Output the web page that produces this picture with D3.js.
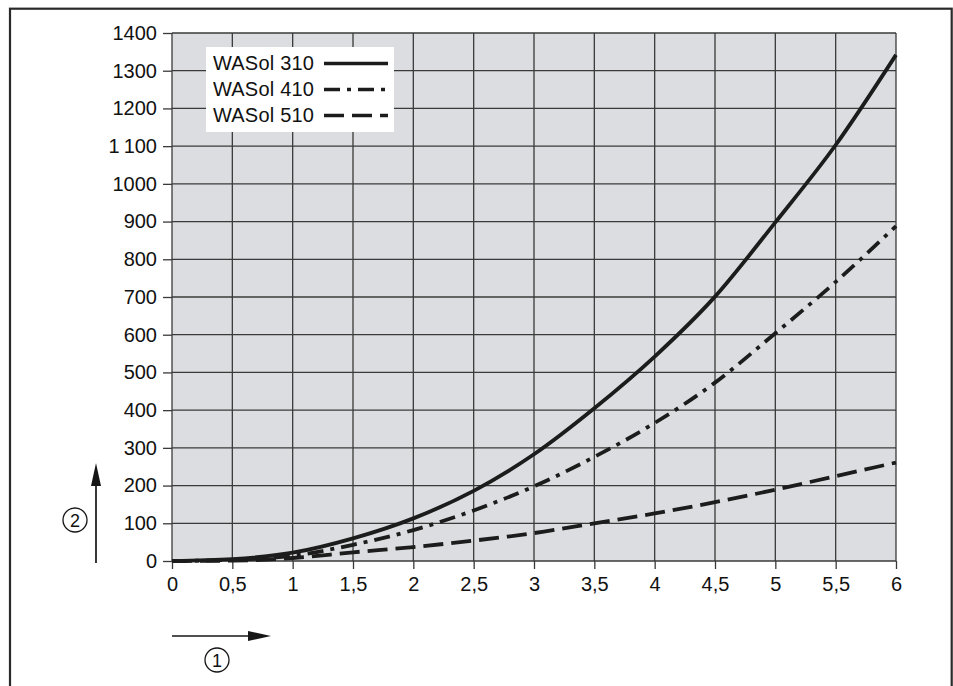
<!DOCTYPE html>
<html>
<head>
<meta charset="utf-8">
<script src="https://cdn.jsdelivr.net/npm/d3@7"></script>
<style>
  html, body { margin: 0; padding: 0; background: #fff; }
  svg { display: block; }
  text { font-family: "Liberation Sans", Arial, Helvetica, sans-serif; fill: #111; }
</style>
</head>
<body>
<svg id="chart" width="953" height="686"></svg>
<script>
// ---- data ----
const xValues = [0, 0.5, 1, 1.5, 2, 2.5, 3, 3.5, 4, 4.5, 5, 5.5, 6];
const wasol310 = [0, 5, 22, 60, 113, 186, 283, 405, 542, 701, 898, 1103, 1342];
const wasol410 = [0, 3, 14, 43, 82, 134, 198, 276, 366, 473, 604, 740, 888];
const wasol510 = [0, 1, 8, 23, 37, 54, 74, 100, 126, 156, 189, 225, 261];
const seriesNames = ["WASol 310", "WASol 410", "WASol 510"];
const xTicks = [0, 0.5, 1, 1.5, 2, 2.5, 3, 3.5, 4, 4.5, 5, 5.5, 6];
const yTicks = [0, 100, 200, 300, 400, 500, 600, 700, 800, 900, 1000, 1100, 1200, 1300, 1400];
const yTickLabels = ["0", "100", "200", "300", "400", "500", "600", "700", "800", "900", "1000", "1\u2009100", "1200", "1300", "1400"];

// ---- layout ----
const svg = d3.select("#chart");
const x = d3.scaleLinear().domain([0, 6]).range([172, 896]);
const y = d3.scaleLinear().domain([0, 1400]).range([561, 33]);
const gridColor = "#3a3a3a";
const ink = "#161616";

// outer frame
svg.append("rect")
  .attr("x", 10).attr("y", 8.7).attr("width", 941.7).attr("height", 720)
  .attr("fill", "none").attr("stroke", "#2a2a2a").attr("stroke-width", 2.2);

// plot background
svg.append("rect")
  .attr("x", x(0)).attr("y", y(1400))
  .attr("width", x(6) - x(0)).attr("height", y(0) - y(1400))
  .attr("fill", "#dcdde0");

// grid
const grid = svg.append("g");
grid.selectAll("line.v").data(xTicks).join("line")
  .attr("x1", d => x(d)).attr("x2", d => x(d))
  .attr("y1", y(1400)).attr("y2", y(0))
  .attr("stroke", gridColor).attr("stroke-width", 1.3);
grid.selectAll("line.h").data(yTicks).join("line")
  .attr("x1", x(0)).attr("x2", x(6))
  .attr("y1", d => y(d)).attr("y2", d => y(d))
  .attr("stroke", gridColor).attr("stroke-width", 1.3);

// axes
const fmtX = d => String(d).replace(".", ",");
const yAxis = d3.axisLeft(y).tickValues(yTicks)
  .tickFormat((d, i) => yTickLabels[i]).tickSize(9).tickPadding(6);
const gy = svg.append("g").attr("transform", `translate(${x(0)},0)`).call(yAxis);
const xAxis = d3.axisBottom(x).tickValues(xTicks).tickFormat(fmtX).tickSize(8).tickPadding(8);
const gx = svg.append("g").attr("transform", `translate(0,${y(0)})`).call(xAxis);
[gy, gx].forEach(g => {
  g.select(".domain").remove();
  g.selectAll(".tick line").attr("stroke", gridColor).attr("stroke-width", 1.3);
  g.selectAll(".tick text").style("font-size", "20px")
    .style("font-family", "'Liberation Sans', Arial, sans-serif").attr("fill", ink);
});

// curves
const styles = [
  { data: wasol310, dash: null },
  { data: wasol410, dash: "16,7,4,7" },
  { data: wasol510, dash: "20,8" }
];
const line = d3.line().x((d, i) => x(xValues[i])).y(d => y(d)).curve(d3.curveMonotoneX);
svg.append("g").selectAll("path").data(styles).join("path")
  .attr("d", s => line(s.data))
  .attr("fill", "none").attr("stroke", "#1c1c1c").attr("stroke-width", 3.8)
  .attr("stroke-dasharray", s => s.dash);

// legend
const lg = svg.append("g");
lg.append("rect").attr("x", 206).attr("y", 47).attr("width", 188).attr("height", 85).attr("fill", "#fff");
const rowsY = [69.5, 95.5, 121.5];
seriesNames.forEach((name, i) => {
  lg.append("text").attr("x", 213).attr("y", rowsY[i]).text(name)
    .style("font-size", "20px").style("letter-spacing", "0.2px").attr("fill", ink);
  lg.append("line").attr("x1", 324).attr("x2", 388)
    .attr("y1", rowsY[i] - 6).attr("y2", rowsY[i] - 6)
    .attr("stroke", "#1c1c1c").attr("stroke-width", 3.6)
    .attr("stroke-dasharray", styles[i].dash);
});

// axis arrows and circled markers
const ar = svg.append("g").attr("stroke", ink).attr("fill", ink);
ar.append("line").attr("x1", 96).attr("x2", 96).attr("y1", 563).attr("y2", 484).attr("stroke-width", 1.7);
ar.append("path").attr("d", "M96,463 L91,486 L101,486 Z").attr("stroke", "none");
ar.append("line").attr("x1", 172).attr("x2", 249).attr("y1", 636).attr("y2", 636).attr("stroke-width", 1.7);
ar.append("path").attr("d", "M271,636 L248,631 L248,641 Z").attr("stroke", "none");

const marks = [{ cx: 217, cy: 660, t: "1" }, { cx: 75, cy: 520, t: "2" }];
marks.forEach(m => {
  svg.append("circle").attr("cx", m.cx).attr("cy", m.cy).attr("r", 12)
    .attr("fill", "none").attr("stroke", ink).attr("stroke-width", 1.3);
  svg.append("text").attr("x", m.cx).attr("y", m.cy + 6.5).attr("text-anchor", "middle")
    .style("font-size", "18px").attr("fill", ink).text(m.t);
});
</script>
</body>
</html>
